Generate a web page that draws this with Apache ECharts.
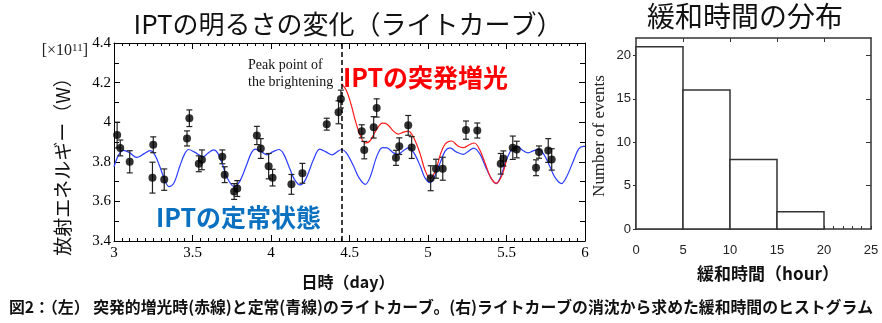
<!DOCTYPE html>
<html>
<head>
<meta charset="utf-8">
<script src="https://cdn.jsdelivr.net/npm/echarts@6/dist/echarts.min.js"></script>
<style>
  html, body { margin: 0; padding: 0; background: #fff; }
  #chart { width: 882px; height: 323px; }
</style>
</head>
<body>
<div id="chart"></div>
<script>
// ---- Light curve: observed IPT radiated energy (x10^11 W) ----
const obsDay = [3.02, 3.04, 3.10, 3.245, 3.25, 3.32, 3.465, 3.48, 3.54, 3.56,
  3.69, 3.705, 3.765, 3.785, 3.91, 3.935, 3.985, 4.01, 4.13, 4.20,
  4.355, 4.43, 4.445, 4.578, 4.594, 4.654, 4.673, 4.796, 4.817, 4.874,
  4.896, 5.017, 5.051, 5.094, 5.242, 5.314, 5.463, 5.48, 5.54, 5.565,
  5.688, 5.707, 5.766, 5.788];
const obsEnergy = [3.935, 3.87, 3.80, 3.72, 3.886, 3.71, 3.918, 4.02, 3.79, 3.81,
  3.825, 3.735, 3.65, 3.665, 3.933, 3.867, 3.778, 3.72, 3.686, 3.742,
  3.99, 4.05, 4.117, 3.954, 3.859, 3.974, 4.072, 3.82, 3.879, 3.984,
  3.872, 3.717, 3.765, 3.765, 3.96, 3.958, 3.79, 3.817, 3.871, 3.862,
  3.77, 3.849, 3.857, 3.812];
const obsErr = [0.065, 0.04, 0.056, 0.078, 0.04, 0.054, 0.038, 0.042, 0.04, 0.05,
  0.035, 0.04, 0.04, 0.04, 0.046, 0.05, 0.064, 0.042, 0.05, 0.05,
  0.03, 0.058, 0.045, 0.033, 0.044, 0.054, 0.046, 0.038, 0.042, 0.05,
  0.055, 0.063, 0.048, 0.058, 0.046, 0.038, 0.052, 0.038, 0.059, 0.042,
  0.04, 0.031, 0.06, 0.054];

// Steady-state light curve (blue)
const quietDay = [3.00, 3.03, 3.06, 3.10, 3.145, 3.19, 3.23, 3.26, 3.29, 3.32,
  3.35, 3.38, 3.42, 3.45, 3.475, 3.51, 3.57, 3.60, 3.635, 3.66,
  3.69, 3.72, 3.765, 3.80, 3.845, 3.875, 3.90, 3.94, 3.975, 4.01,
  4.05, 4.08, 4.12, 4.15, 4.185, 4.22, 4.27, 4.31, 4.35, 4.39,
  4.42, 4.45, 4.48, 4.525, 4.56, 4.60, 4.63, 4.675, 4.71, 4.74,
  4.78, 4.81, 4.84, 4.875, 4.91, 4.95, 4.98, 5.013, 5.05, 5.08,
  5.11, 5.14, 5.18, 5.225, 5.26, 5.29, 5.33, 5.365, 5.40, 5.433,
  5.46, 5.50, 5.535, 5.568, 5.60, 5.638, 5.67, 5.705, 5.74, 5.777,
  5.81, 5.85, 5.88, 5.924, 5.96, 5.99, 6.00];
const quietEnergy = [3.775, 3.835, 3.858, 3.845, 3.822, 3.84, 3.856, 3.835, 3.78, 3.715,
  3.675, 3.69, 3.78, 3.84, 3.862, 3.85, 3.826, 3.845, 3.86, 3.845,
  3.79, 3.72, 3.675, 3.70, 3.785, 3.845, 3.864, 3.85, 3.835, 3.85,
  3.862, 3.84, 3.765, 3.71, 3.683, 3.71, 3.81, 3.864, 3.85, 3.835,
  3.85, 3.862, 3.845, 3.78, 3.72, 3.686, 3.72, 3.83, 3.872, 3.87,
  3.845, 3.838, 3.855, 3.87, 3.845, 3.78, 3.72, 3.695, 3.74, 3.80,
  3.855, 3.87, 3.85, 3.838, 3.855, 3.869, 3.84, 3.778, 3.72, 3.69,
  3.72, 3.81, 3.865, 3.878, 3.86, 3.845, 3.855, 3.863, 3.835, 3.775,
  3.72, 3.69, 3.72, 3.80, 3.865, 3.878, 3.878];

// Sudden brightening light curve (red)
const burstDay = [4.45, 4.48, 4.51, 4.54, 4.57, 4.60, 4.63, 4.67, 4.71, 4.74,
  4.78, 4.81, 4.845, 4.875, 4.91, 4.95, 4.98, 5.013, 5.05, 5.08,
  5.11, 5.15, 5.19, 5.225, 5.26, 5.295, 5.33, 5.365, 5.40, 5.435,
  5.47, 5.50];
const burstEnergy = [4.195, 4.16, 4.09, 4.00, 3.93, 3.895, 3.905, 3.96, 3.995, 3.99,
  3.955, 3.94, 3.95, 3.955, 3.92, 3.84, 3.76, 3.715, 3.76, 3.84,
  3.89, 3.905, 3.88, 3.872, 3.885, 3.895, 3.86, 3.79, 3.72, 3.692,
  3.73, 3.81];

const peakDay = 4.45;

// ---- Relaxation time histogram ----
const binStart = [0, 5, 10, 15];
const binEnd = [5, 10, 15, 20];
const eventCount = [21, 16, 8, 2];

const xTicksLeft = [3, 3.5, 4, 4.5, 5, 5.5, 6];
const yTicksLeft = [3.4, 3.6, 3.8, 4.0, 4.2, 4.4];
const xTicksHist = [0, 5, 10, 15, 20, 25];
const yTicksHist = [0, 5, 10, 15, 20];

const JP = '"Noto Sans CJK JP", sans-serif';
const SERIF = '"Liberation Serif", "DejaVu Serif", serif';
const SANS = '"Liberation Sans", Arial, sans-serif';
const BLUE = '#2a3cff';
const RED = '#ff1a1a';

const chart = echarts.init(document.getElementById('chart'), null, { renderer: 'canvas' });

const zip = (a, b) => a.map((v, i) => [v, b[i]]);

function frameAxis(extra) {
  return Object.assign({
    axisLine: { show: true, onZero: false, lineStyle: { color: '#000', width: 1 } },
    axisTick: { show: true, inside: true, length: 6, lineStyle: { color: '#000', width: 1 } },
    splitLine: { show: false },
    minorSplitLine: { show: false }
  }, extra);
}

const histLine = { show: true, onZero: false, lineStyle: { color: '#333', width: 1.5 } };

const option = {
  animation: false,
  backgroundColor: '#fff',
  grid: [
    { left: 114, right: 297, top: 43, bottom: 82 },
    { left: 636, right: 11, top: 38, bottom: 94 }
  ],
  xAxis: [
    frameAxis({
      type: 'value', gridIndex: 0, min: 3, max: 6, interval: 0.5, position: 'bottom',
      minorTick: { show: true, splitNumber: 10, length: 3, lineStyle: { color: '#000' } },
      axisLabel: { show: true, customValues: xTicksLeft, fontFamily: SERIF, fontSize: 15, color: '#000', margin: 5 }
    }),
    frameAxis({
      type: 'value', gridIndex: 0, min: 3, max: 6, interval: 0.5, position: 'top',
      minorTick: { show: true, splitNumber: 10, length: 3, lineStyle: { color: '#000' } },
      axisLabel: { show: false }
    }),
    {
      type: 'value', gridIndex: 1, min: 0, max: 25, interval: 5, position: 'bottom',
      axisLine: histLine,
      axisTick: { show: true, inside: true, length: 3, lineStyle: { color: '#333' } },
      minorTick: { show: true, splitNumber: 5, length: 3, lineStyle: { color: '#333' } },
      axisLabel: { customValues: xTicksHist, fontFamily: SANS, fontSize: 13, color: '#222', margin: 15 },
      splitLine: { show: false }
    },
    {
      type: 'value', gridIndex: 1, min: 0, max: 25, interval: 5, position: 'top',
      axisLine: histLine,
      axisTick: { show: true, inside: true, length: 4, customValues: [5, 10, 15, 20], lineStyle: { color: '#333' } },
      axisLabel: { show: false },
      splitLine: { show: false }
    }
  ],
  yAxis: [
    frameAxis({
      type: 'value', gridIndex: 0, min: 3.4, max: 4.4, interval: 0.2, position: 'left',
      minorTick: { show: true, splitNumber: 2, length: 5, lineStyle: { color: '#000' } },
      axisLabel: { customValues: yTicksLeft, fontFamily: SERIF, fontSize: 15, color: '#000', margin: 3,
        formatter: v => String(Math.round(v * 10) / 10) }
    }),
    frameAxis({
      type: 'value', gridIndex: 0, min: 3.4, max: 4.4, interval: 0.2, position: 'right',
      minorTick: { show: true, splitNumber: 2, length: 5, lineStyle: { color: '#000' } },
      axisLabel: { show: false }
    }),
    {
      type: 'value', gridIndex: 1, min: 0, max: 22, interval: 5, position: 'left',
      axisLine: histLine,
      axisTick: { show: true, inside: false, length: 3, customValues: yTicksHist, lineStyle: { color: '#333' } },
      axisLabel: { customValues: yTicksHist, fontFamily: SANS, fontSize: 13, color: '#222', margin: 5 },
      splitLine: { show: false }
    },
    {
      type: 'value', gridIndex: 1, min: 0, max: 22, interval: 5, position: 'right',
      axisLine: histLine,
      axisTick: { show: true, inside: true, length: 5, customValues: [5, 10, 15, 20], lineStyle: { color: '#333' } },
      axisLabel: { show: false },
      splitLine: { show: false }
    }
  ],
  series: [
    {
      name: 'quiet', type: 'line', xAxisIndex: 0, yAxisIndex: 0,
      data: zip(quietDay, quietEnergy), smooth: 0.35, showSymbol: false, symbol: 'none',
      lineStyle: { color: BLUE, width: 1.2 }, z: 2,
      markLine: {
        silent: true, symbol: 'none', label: { show: false },
        lineStyle: { color: '#000', type: [5, 3], width: 1.5 },
        data: [{ xAxis: peakDay }]
      }
    },
    {
      name: 'burst', type: 'line', xAxisIndex: 0, yAxisIndex: 0,
      data: zip(burstDay, burstEnergy), smooth: 0.35, showSymbol: false, symbol: 'none',
      lineStyle: { color: RED, width: 1.2 }, z: 3
    },
    {
      name: 'errorbars', type: 'custom', xAxisIndex: 0, yAxisIndex: 0, z: 4,
      data: obsDay.map((d, i) => [d, obsEnergy[i], obsErr[i]]),
      renderItem: function (params, api) {
        const x = api.value(0), y = api.value(1), e = api.value(2);
        const lo = api.coord([x, y - e]);
        const hi = api.coord([x, y + e]);
        const cap = 3;
        const st = { stroke: '#222', lineWidth: 1.2 };
        return {
          type: 'group',
          children: [
            { type: 'line', shape: { x1: lo[0], y1: lo[1], x2: hi[0], y2: hi[1] }, style: st },
            { type: 'line', shape: { x1: lo[0] - cap, y1: lo[1], x2: lo[0] + cap, y2: lo[1] }, style: st },
            { type: 'line', shape: { x1: hi[0] - cap, y1: hi[1], x2: hi[0] + cap, y2: hi[1] }, style: st }
          ]
        };
      }
    },
    {
      name: 'observed', type: 'scatter', xAxisIndex: 0, yAxisIndex: 0, z: 5,
      data: zip(obsDay, obsEnergy), symbol: 'circle', symbolSize: 8,
      itemStyle: { color: '#000' }
    },
    {
      name: 'histogram', type: 'custom', xAxisIndex: 2, yAxisIndex: 2, z: 2,
      data: binStart.map((s, i) => [s, binEnd[i], eventCount[i]]),
      renderItem: function (params, api) {
        const p0 = api.coord([api.value(0), 0]);
        const p1 = api.coord([api.value(1), api.value(2)]);
        return {
          type: 'rect',
          shape: { x: p0[0], y: p1[1], width: p1[0] - p0[0], height: p0[1] - p1[1] },
          style: { fill: '#fff', stroke: '#333', lineWidth: 1.5 }
        };
      }
    }
  ],
  graphic: [
    { type: 'text', x: 348, y: 24, style: { text: 'IPTの明るさの変化（ライトカーブ）', font: '26px ' + JP, fill: '#111', align: 'center', verticalAlign: 'middle' } },
    { type: 'text', x: 745, y: 16, style: { text: '緩和時間の分布', font: '28px ' + JP, fill: '#111', align: 'center', verticalAlign: 'middle' } },
    { type: 'text', x: 88, y: 51, style: {
        text: '{a|[×10}{s|11}{a|]}', align: 'right', verticalAlign: 'middle',
        rich: { a: { font: '16px ' + SERIF, fill: '#222' }, s: { font: '11px ' + SERIF, fill: '#222', verticalAlign: 'top', padding: [0, 0, 6, 0] } }
      } },
    { type: 'text', x: 63, y: 162, rotation: Math.PI / 2, style: { text: '放射エネルギー（W）', font: '19px ' + JP, fill: '#111', align: 'center', verticalAlign: 'middle' } },
    { type: 'text', x: 348, y: 282, style: { text: '日時（day）', font: 'bold 16px ' + JP, fill: '#111', align: 'center', verticalAlign: 'middle' } },
    { type: 'text', x: 248, y: 65, style: { text: 'Peak point of', font: '14px ' + SERIF, fill: '#111', align: 'left', verticalAlign: 'middle' } },
    { type: 'text', x: 248, y: 82, style: { text: 'the brightening', font: '14px ' + SERIF, fill: '#111', align: 'left', verticalAlign: 'middle' } },
    { type: 'text', x: 343, y: 77, style: { text: 'IPTの突発増光', font: 'bold 25px ' + JP, fill: '#ff0000', align: 'left', verticalAlign: 'middle' } },
    { type: 'text', x: 156, y: 217, style: { text: 'IPTの定常状態', font: 'bold 25px ' + JP, fill: '#0a70c0', align: 'left', verticalAlign: 'middle' } },
    { type: 'text', x: 600, y: 136, rotation: Math.PI / 2, style: { text: 'Number of events', font: '17px ' + SERIF, fill: '#222', align: 'center', verticalAlign: 'middle' } },
    { type: 'text', x: 768, y: 274, style: { text: '緩和時間（hour）', font: 'bold 17px ' + JP, fill: '#111', align: 'center', verticalAlign: 'middle' } },
    { type: 'text', x: 441, y: 307, scaleX: 0.99, style: { text: '図2：（左） 突発的増光時(赤線)と定常(青線)のライトカーブ。(右)ライトカーブの消沈から求めた緩和時間のヒストグラム', font: 'bold 16px ' + JP, fill: '#111', align: 'center', verticalAlign: 'middle' } }
  ]
};

chart.setOption(option);
</script>
</body>
</html>
